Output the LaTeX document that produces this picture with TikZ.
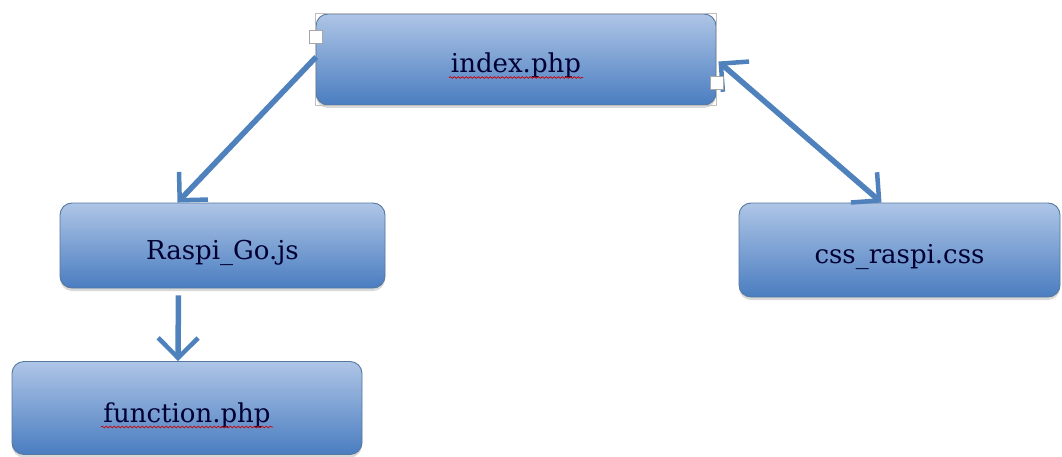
\documentclass[tikz,border=0pt]{standalone}
\usepackage{fontspec}
\setmainfont{DejaVu Serif}
\usetikzlibrary{arrows.meta,shadows,calc,decorations.pathmorphing}

\definecolor{boxtop}{HTML}{AEC5E6}
\definecolor{boxbot}{HTML}{4A7DC0}
\definecolor{boxedge}{HTML}{56789F}
\definecolor{linkblue}{HTML}{4F81BD}

\tikzset{
  filebox/.style={draw=boxedge, line width=0.9pt, rounded corners=12pt,
    top color=boxtop, bottom color=boxbot,
    drop shadow={shadow xshift=0pt, shadow yshift=-3pt, opacity=0.25, fill=black!60}},
  label/.style={font=\fontsize{26}{30}\selectfont, text=black!80!blue, anchor=base},
  barb/.tip={Straight Barb[length=20pt, width=40pt, line width=4.5pt]},
  link/.style={draw=linkblue, line width=5.5pt, -barb},
  twoway/.style={draw=linkblue, line width=5.5pt, barb-barb},
  handle/.style={draw=black!35, fill=white, line width=0.6pt, minimum size=13pt, inner sep=0pt},
  spell/.style={draw=red!80!black, line width=0.7pt,
    decorate, decoration={snake, segment length=4pt, amplitude=0.9pt}}
}

\begin{document}
\begin{tikzpicture}[x=1pt, y=-1pt]
  \useasboundingbox (0,0) rectangle (1062,457);

  % files
  \node[filebox, minimum width=400pt, minimum height=91pt] (index) at (516,59.5) {};
  \node[filebox, minimum width=325pt, minimum height=85pt] (raspi) at (222.5,245.5) {};
  \node[filebox, minimum width=350pt, minimum height=93pt] (func) at (187,408) {};
  \node[filebox, minimum width=321pt, minimum height=94pt] (css) at (899.5,250) {};

  % labels, set a little below each box centre
  \node[label] (tindex) at ($(index.center)+(0,13)$) {index.php};
  \node[label] (traspi) at ($(raspi.center)+(0,14)$) {Raspi\_Go.js};
  \node[label] (tfunc) at ($(func.center)+(0,14)$) {function.php};
  \node[label] (tcss) at ($(css.center)+(0,13)$) {css\_raspi.css};

  % selection frame of the index box
  \draw[black!25, line width=0.5pt] (index.north west) rectangle (index.south east);

  % spell-check underlines
  \draw[spell] ($(tindex.base)+(-67,5)$) -- ($(tindex.base)+(67,5)$);
  \draw[spell] ($(tfunc.base)+(-86,5)$) -- ($(tfunc.base)+(86,5)$);

  % links
  \draw[link, shorten <=2pt] ($(index.west)+(2,-4)$) -- ($(raspi.north)+(-45,0)$);
  \draw[link, shorten <=7pt] ($(raspi.south)+(-44,0)$) -- ($(func.north)+(-9,0)$);
  \draw[twoway] ($(index.east)+(2,2)$) -- ($(css.north)+(-18,0)$);

  % resize handles
  \node[handle] (h1) at ($(index.west)+(0,-23)$) {};
  \node[handle] (h2) at ($(index.east)+(0,23)$) {};
\end{tikzpicture}
\end{document}
